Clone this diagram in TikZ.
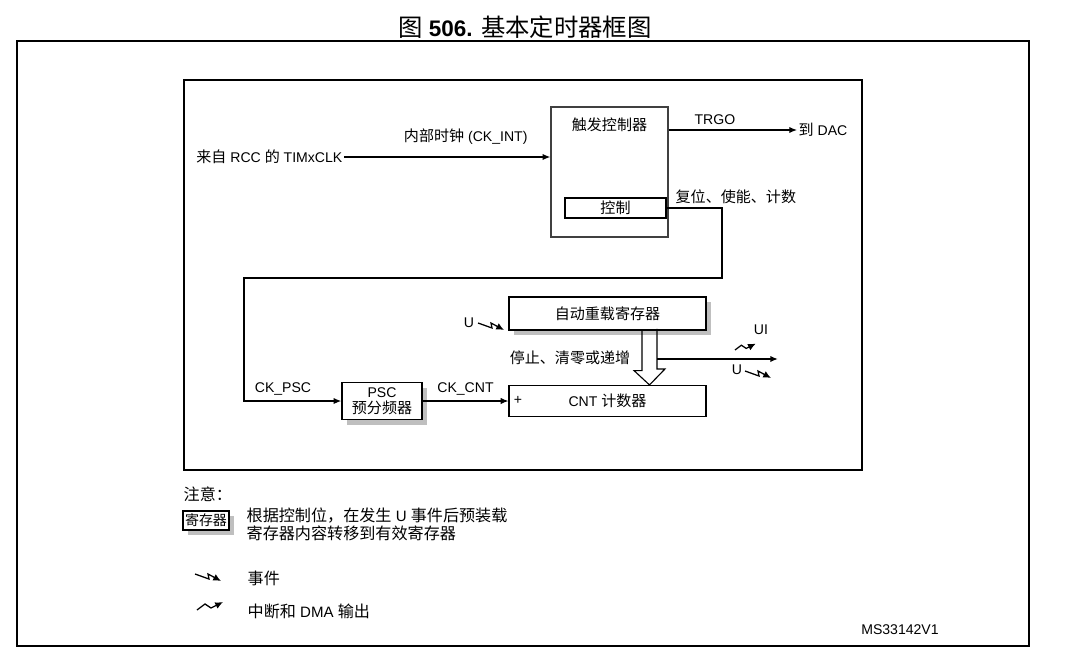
\documentclass[tikz,border=0pt]{standalone}
\usepackage{fontspec}
\setmainfont{Liberation Sans}
\newfontfamily\cjk[Scale=1.07]{Noto Sans CJK SC}
\newcommand{\zh}[1]{{\cjk #1}}
\usetikzlibrary{arrows.meta,positioning,shadows}

\begin{document}
\begin{tikzpicture}[x=0.025cm, y=-0.025cm, >={Latex[length=5.5pt,width=4.5pt]},
  font=\fontsize{10}{12}\selectfont,
  box/.style={draw, line width=0.8pt, fill=white, inner sep=1pt, align=center},
  reg/.style={box, general shadow={fill=black!25, shadow xshift=0.13cm, shadow yshift=-0.13cm}},
  sig/.style={->, line width=0.8pt},
  txt/.style={inner sep=1pt},
  pics/evtsym/.style={code={
    \draw[-{Latex[length=5.5pt,width=5pt]}, line width=0.9pt, line join=miter] (0,0) -- (14,5) -- (13,0) -- (26,7);}},
  pics/intsym/.style={code={
    \draw[-{Latex[length=5.5pt,width=5pt]}, line width=0.9pt, line join=miter] (0,0) -- (8,-6) -- (14,-2) -- (26,-8);}}]
  \useasboundingbox (0,0) rectangle (1066,658);

  % title and frames
  \node[font=\fontsize{16}{18}\selectfont] (title) at (525,27)
    {\zh{\fontsize{16.2}{18}\selectfont 图} \textbf{506.} \zh{\fontsize{16.2}{18}\selectfont 基本定时器框图}};
  \draw[line width=1.2pt] (17,41) rectangle (1029,646);
  \draw[line width=1.1pt] (184,80) rectangle (862,470);

  % trigger controller
  \node[txt, anchor=east] (rcc) at (344,157) {\zh{来自} RCC \zh{的} TIMxCLK};
  \node[box, draw=black!75, line width=1pt, minimum width=2.925cm, minimum height=3.25cm] (trig) at (609.5,172) {};
  \node[txt] (trigt) at (609.5,125) {\zh{触发控制器}};
  \node[box, minimum width=2.525cm, minimum height=0.5cm] (ctl) at (615.5,208) {\zh{控制}};
  \node[txt, anchor=west] (dac) at (797,130) {\zh{到} DAC};
  \node[txt, anchor=west] (rst) at (674,197) {\zh{复位、使能、计数}};
  \draw[sig] (rcc.east) -- (rcc.east -| trig.west)
    node[pos=0.59, above=5pt] (ckint) {\zh{内部时钟} (CK\_INT)};
  \draw[sig] (trig.east |- dac.west) -- (dac.west) node[pos=0.36, above=0pt] (trgo) {TRGO};

  % prescaler and counter
  \node[reg, minimum width=2cm, minimum height=0.925cm] (psc) at (382,401) {PSC\\[-1pt]\zh{预分频器}};
  \node[box, minimum width=4.925cm, minimum height=0.775cm] (cnt) at (607.5,401) {CNT \zh{计数器}};
  \node[txt] (plus) at (518,400) {+};
  \node[reg, minimum width=4.925cm, minimum height=0.825cm] (arr) at (607.5,313.5) {\zh{自动重载寄存器}};
  \node[txt] (ckpsc) at (283,389) {CK\_PSC};
  \coordinate (c1) at (722,278);
  \coordinate (c2) at (244,278);
  \draw[sig, line width=1.2pt] (ctl.east) -| (c1) -- (c2) |- (psc.west);
  \draw[sig] (psc.east) -- (cnt.west) node[pos=0.5, above=0pt] (ckcnt) {CK\_CNT};

  % preload transfer and outputs
  \coordinate (hx) at (649.5,0);
  \draw[line width=0.8pt] (arr.south -| hx) ++(-7.5,0) -- ++(0,40) -- ++(-8,0) -- (cnt.north -| hx)
    -- ++(15.5,-16) -- ++(-8,0) -- ++(0,-40);
  \node[txt] (stop) at (570,358) {\zh{停止、清零或递增}};
  \coordinate (hr) at (657,359);
  \coordinate (out) at (778,359);
  \draw[sig, line width=1.1pt] (hr) -- (out);
  \node[txt] (uin) at (469,323) {U};
  \pic at (478,323) {evtsym};
  \node[txt] (ui) at (761,330) {UI};
  \pic[scale=0.8] at (735,350) {intsym};
  \node[txt] (uout) at (737,370) {U};
  \pic at (745,371) {evtsym};

  % notes
  \node[txt, anchor=west, font=\fontsize{10.7}{12.5}\selectfont] (note) at (182,494) {\zh{注意：}};
  \node[reg, minimum width=1.15cm, minimum height=0.475cm, inner sep=0.5pt,
    font=\fontsize{9.3}{11}\selectfont] (lreg) at (206,520.5) {\zh{寄存器}};
  \node[txt, anchor=north west, align=left, font=\fontsize{10.7}{13}\selectfont] (lregt) at (245,506)
    {\zh{根据控制位，在发生} U \zh{事件后预装载}\\\zh{寄存器内容转移到有效寄存器}};
  \pic at (195,574) {evtsym};
  \node[txt, anchor=west, font=\fontsize{10.7}{12.5}\selectfont] (levt) at (246,578) {\zh{事件}};
  \pic at (197,610) {intsym};
  \node[txt, anchor=west, font=\fontsize{10.7}{12.5}\selectfont] (lint) at (246,611) {\zh{中断和} DMA \zh{输出}};
  \node[txt] (ms) at (900,630) {MS33142V1};
\end{tikzpicture}
\end{document}
